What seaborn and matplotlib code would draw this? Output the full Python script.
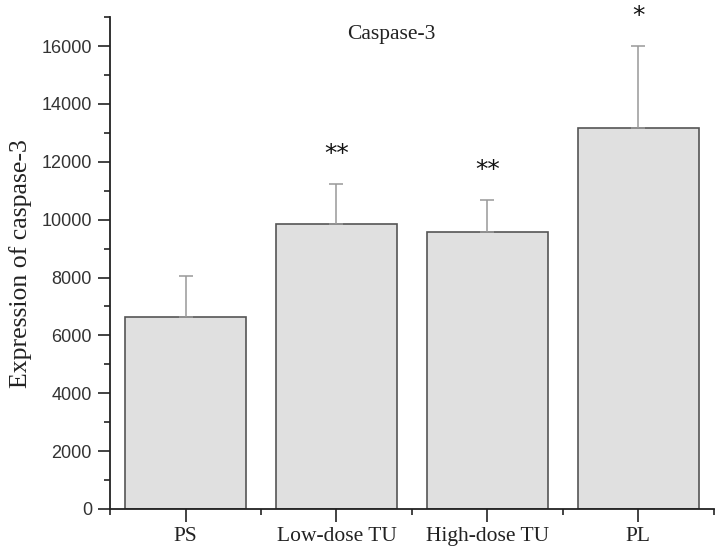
import numpy as np
import pandas as pd
import matplotlib
matplotlib.use('Agg')
import matplotlib.pyplot as plt
import seaborn as sns
from matplotlib.ticker import MultipleLocator, FixedLocator

# data
groups = ['PS', 'Low-dose TU', 'High-dose TU', 'PL']
means = [6630, 9840, 9570, 13160]
err_top = [8070, 11220, 10670, 16020]
stars = ['', '**', '**', '*']

df = pd.DataFrame({'group': groups, 'value': means})
errs = np.array(err_top) - np.array(means)

sns.set_style('ticks')

fig = plt.figure(figsize=(7.24, 5.55), dpi=100)
ax = fig.add_axes([0.152, 0.083, 0.834, 0.886])

sns.barplot(data=df, x='group', y='value', color='#e0e0e0', saturation=1,
            edgecolor='#555555', linewidth=1.2, width=0.8, errorbar=None, ax=ax)

x = np.arange(len(groups))
ax.errorbar(x, means, yerr=[np.zeros(len(errs)), errs], fmt='none',
            ecolor='#999999', elinewidth=1.1, capsize=5, capthick=1.1)

# significance stars above the caps
for xi, top, s in zip(x, err_top, stars):
    if s:
        ax.text(xi, top + 620, s, ha='center', va='bottom', fontsize=18,
                family='DejaVu Sans', color='#111111')

ax.set_xlim(-0.5, 3.5)
ax.set_ylim(0, 17000)
ax.yaxis.set_major_locator(MultipleLocator(2000))
ax.yaxis.set_minor_locator(MultipleLocator(1000))
ax.xaxis.set_minor_locator(FixedLocator([-0.5, 0.5, 1.5, 2.5, 3.5]))

sns.despine(ax=ax)
for sp in ['left', 'bottom']:
    ax.spines[sp].set_linewidth(1.3)
    ax.spines[sp].set_color('#222222')

ax.tick_params(axis='both', which='major', length=9, width=1.2, color='#222222', pad=4)
ax.tick_params(axis='both', which='minor', length=4.5, width=1.2, color='#222222')
ax.tick_params(axis='y', labelsize=13, labelcolor='#333333')
ax.tick_params(axis='x', labelsize=15.5, labelcolor='#222222')

for lab in ax.get_yticklabels():
    lab.set_family('Liberation Sans')
for lab in ax.get_xticklabels():
    lab.set_family('Liberation Serif')

ax.set_xlabel('')
ax.set_ylabel('Expression of caspase-3', fontsize=18.5, family='Liberation Serif',
              color='#222222', labelpad=7)
ax.text(0.466, 0.985, 'Caspase-3', transform=ax.transAxes, ha='center', va='top',
        fontsize=15.5, family='Liberation Serif', color='#222222')

fig.savefig('out.png', dpi=100)
